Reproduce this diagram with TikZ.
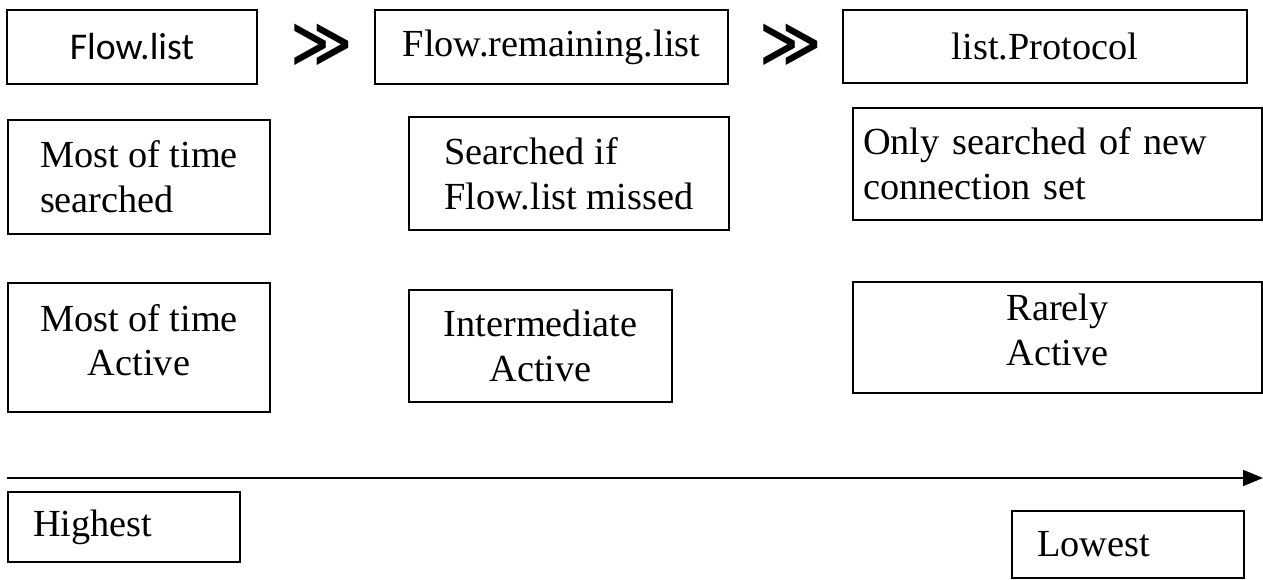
\documentclass[tikz,border=0pt]{standalone}
\usepackage{fontspec}
\setmainfont{Liberation Serif}
\newfontfamily\calfont{Carlito}
\newfontfamily\symfont{DejaVu Sans}
\usetikzlibrary{arrows.meta,positioning}

\begin{document}
\begin{tikzpicture}[x=0.02cm, y=-0.02cm,
    every node/.style={font=\fontsize{21.8}{25.5}\selectfont},
    cellbox/.style={draw, line width=1pt, inner sep=0pt, outer sep=0pt},
    padbox/.style={cellbox, align=left, inner xsep=#1},
    ggsign/.style={font=\fontsize{34}{34}\symfont\bfseries}]
\useasboundingbox (0,0) rectangle (1263,580);
% ==== Top row: the three lists ====
\node[cellbox, minimum width=5cm, minimum height=1.48cm, font=\fontsize{21.5}{25}\calfont]
    (flist) at (132,47) {Flow.list};
\node[cellbox, minimum width=7.06cm, minimum height=1.48cm]
    (frem) at (551.5,47) {Flow.remaining.list};
\node[cellbox, minimum width=8.08cm, minimum height=1.46cm]
    (lproto) at (1045,46.5) {list.Protocol};
\node[ggsign] (gg1) at (322,45) {≫};
\node[ggsign] (gg2) at (791,45) {≫};

% ==== Second row: how often searched ====
\node[cellbox, align=left, minimum width=5.24cm, minimum height=2.28cm]
    (msearch) at (139,177) {Most of time\\searched};
\node[cellbox, align=left, minimum width=6.4cm, minimum height=2.26cm]
    (ssearch) at (569,173.5) {Searched if\\Flow.list missed};
\node[padbox=0.2cm, text width=7.78cm, minimum height=2.24cm]
    (osearch) at (1057.5,164) {Only searched of new\\connection set};

% ==== Third row: how often active ====
\node[cellbox, align=center, minimum width=5.24cm, minimum height=2.58cm, text depth=0.3cm]
    (mactive) at (139,347.5) {Most of time\\Active};
\node[cellbox, align=center, minimum width=5.26cm, minimum height=2.24cm]
    (iactive) at (540.5,346) {Intermediate\\Active};
\node[cellbox, align=center, minimum width=8.18cm, minimum height=2.22cm, text depth=0.3cm]
    (ractive) at (1057.5,337.5) {Rarely\\Active};

% ==== Priority axis ====
\coordinate (axl) at (7,478);
\coordinate (axr) at (1263,478);
\draw[line width=1pt, -{Triangle[length=0.4cm, width=0.32cm]}] (axl) -- (axr);
\node[padbox=0.5cm, text width=3.64cm, minimum height=1.4cm]
    (highest) at (124,527) {Highest};
\node[padbox=0.5cm, text width=3.64cm, minimum height=1.34cm]
    (lowest) at (1128,544.5) {Lowest};
\end{tikzpicture}
\end{document}
